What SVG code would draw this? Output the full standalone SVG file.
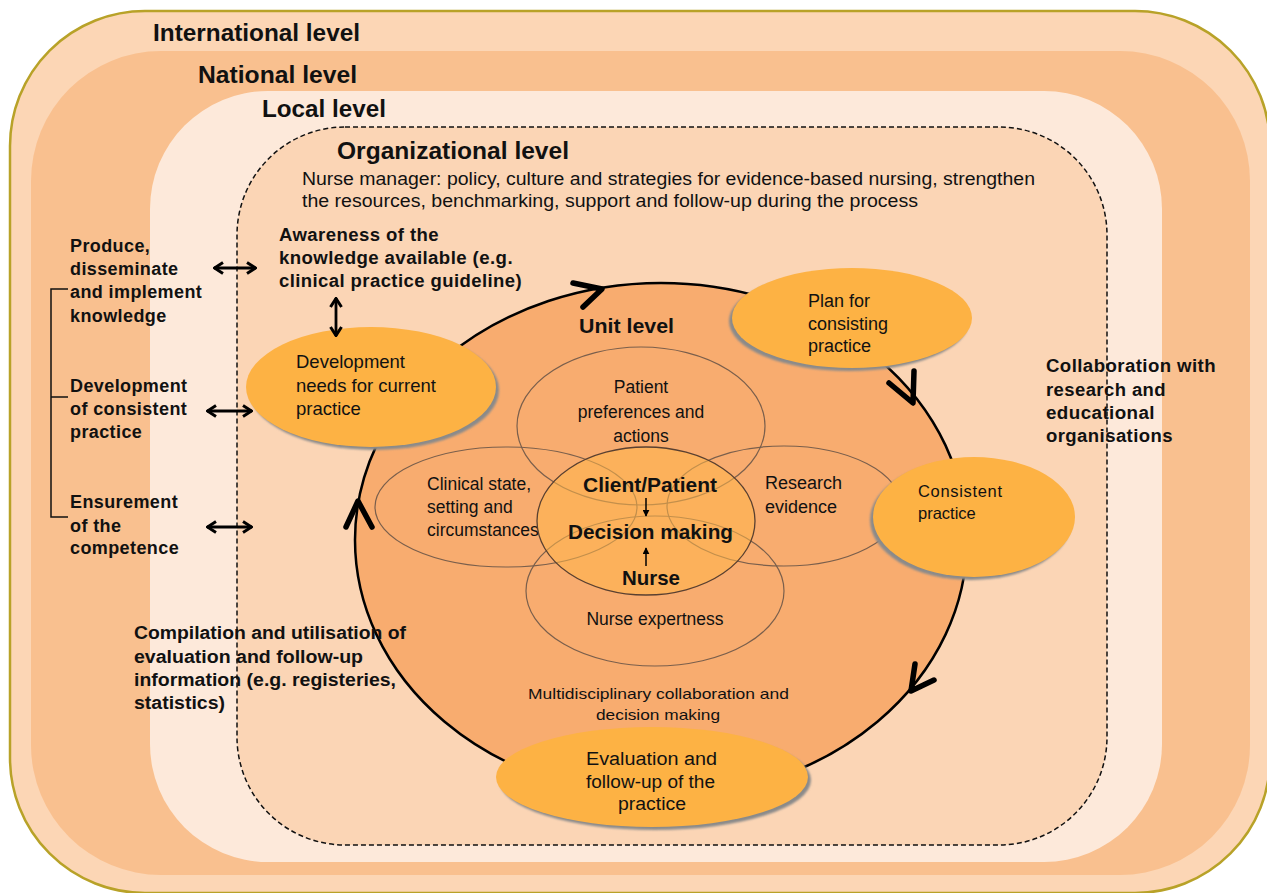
<svg xmlns="http://www.w3.org/2000/svg" width="1267" height="893" viewBox="0 0 1267 893">
<defs>
<style>
.t{font-family:"Liberation Sans",Arial,sans-serif;fill:#111;}
.b{font-weight:bold;}
.hdr{font-family:"Liberation Sans",Arial,sans-serif;font-weight:bold;fill:#111;font-size:23px;}
.lt{font-family:"Liberation Sans",Arial,sans-serif;font-weight:bold;fill:#111;font-size:18px;letter-spacing:0.4px;}
.venn{fill:none;stroke:#7a5f4c;stroke-width:1.2;}
.proc{fill:#fdb244;}
.shad{fill:#8a8a8a;filter:url(#blur);}
.conn{fill:none;stroke:#000;stroke-width:2.8;}
.chev{fill:none;stroke:#000;stroke-width:5.5;stroke-linecap:round;stroke-linejoin:round;}
</style>
<filter id="blur" x="-10%" y="-10%" width="120%" height="120%"><feGaussianBlur stdDeviation="1"/></filter>
<marker id="ah" viewBox="0 0 14 14" refX="13" refY="7" markerWidth="14" markerHeight="14" markerUnits="userSpaceOnUse" orient="auto-start-reverse">
<path d="M4,1.5 L12.5,7 L4,12.5" fill="none" stroke="#000" stroke-width="3" stroke-linejoin="miter"/>
</marker>
<marker id="sa" viewBox="0 0 10 10" refX="9" refY="5" markerWidth="7" markerHeight="7" markerUnits="userSpaceOnUse" orient="auto">
<path d="M0,0 L10,5 L0,10 Z" fill="#000"/>
</marker>
</defs>

<g id="international-level">
<rect x="10" y="11" width="1260" height="882" rx="135" ry="135" fill="#fcd6b5" stroke="#b8a228" stroke-width="2.5"/>
<text class="hdr" x="153" y="41" textLength="207" lengthAdjust="spacingAndGlyphs">International level</text>
</g>
<g id="national-level">
<rect x="31" y="51" width="1219" height="824" rx="130" ry="130" fill="#f9c08f"/>
<text class="hdr" x="198" y="83" textLength="159" lengthAdjust="spacingAndGlyphs">National level</text>
</g>
<g id="local-level">
<rect x="150" y="91" width="1012" height="771" rx="118" ry="118" fill="#fde9da"/>
<text class="hdr" x="262" y="117" textLength="124" lengthAdjust="spacingAndGlyphs">Local level</text>
</g>
<g id="organizational-level">
<rect x="237" y="127" width="870" height="718" rx="108" ry="108" fill="#fbd5b5" stroke="#111" stroke-width="1.5" stroke-dasharray="5,3"/>
<text class="hdr" x="337" y="159" style="font-size:24px" textLength="232" lengthAdjust="spacingAndGlyphs">Organizational level</text>
<text class="t" x="302" y="185" style="font-size:17.5px" textLength="733" lengthAdjust="spacingAndGlyphs">Nurse manager:  policy, culture and strategies for evidence-based nursing, strengthen</text>
<text class="t" x="302" y="207" style="font-size:17.5px" textLength="616" lengthAdjust="spacingAndGlyphs">the resources, benchmarking, support and follow-up during the process</text>
</g>

<g id="unit-level">
<ellipse cx="661" cy="540" rx="306" ry="257" fill="#f8ac6f" stroke="#000" stroke-width="2.5"/>
<text class="t b" x="579" y="333" style="font-size:20px" textLength="95" lengthAdjust="spacingAndGlyphs">Unit level</text>
</g>

<g id="patient-preferences">
<ellipse class="venn" cx="641" cy="426" rx="124" ry="79"/>
<text class="t" text-anchor="middle" style="font-size:17.5px"><tspan x="641" y="393">Patient</tspan><tspan x="641" y="418">preferences and</tspan><tspan x="641" y="442">actions</tspan></text>
</g>
<g id="clinical-state">
<ellipse class="venn" cx="506" cy="507" rx="131" ry="60"/>
<text class="t" style="font-size:17.5px"><tspan x="427" y="490">Clinical state,</tspan><tspan x="427" y="513">setting and</tspan><tspan x="427" y="536">circumstances</tspan></text>
</g>
<g id="research-evidence">
<ellipse class="venn" cx="784" cy="506" rx="117" ry="60"/>
<text class="t" style="font-size:18px"><tspan x="765" y="489">Research</tspan><tspan x="765" y="513">evidence</tspan></text>
</g>
<g id="nurse-expertness">
<ellipse class="venn" cx="655" cy="591" rx="129" ry="75"/>
<text class="t" x="655" y="625" text-anchor="middle" style="font-size:17.5px">Nurse expertness</text>
</g>
<g id="decision-making">
<ellipse cx="646" cy="521" rx="109" ry="74" fill="#ffb74a" fill-opacity="0.55" stroke="#5a4030" stroke-width="1.3"/>
<text class="t b" x="583" y="492" style="font-size:20px" textLength="134" lengthAdjust="spacingAndGlyphs">Client/Patient</text>
<text class="t b" x="568" y="539" style="font-size:21px" textLength="165" lengthAdjust="spacingAndGlyphs">Decision making</text>
<text class="t b" x="622" y="585" style="font-size:21px" textLength="58" lengthAdjust="spacingAndGlyphs">Nurse</text>
</g>

<g id="multidisciplinary">
<text class="t" style="font-size:15px"><tspan x="528" y="699" textLength="261" lengthAdjust="spacingAndGlyphs">Multidisciplinary collaboration and</tspan><tspan x="596" y="720" textLength="124" lengthAdjust="spacingAndGlyphs">decision making</tspan></text>
</g>

<g id="development-needs">
<ellipse class="shad" cx="374" cy="390" rx="125" ry="60"/>
<ellipse class="proc" cx="371" cy="387" rx="125" ry="60"/>
<text class="t" style="font-size:18.5px"><tspan x="296" y="368">Development</tspan><tspan x="296" y="392">needs for current</tspan><tspan x="296" y="415">practice</tspan></text>
</g>
<g id="plan-consisting-practice">
<ellipse class="shad" cx="849" cy="321" rx="120" ry="50"/>
<ellipse class="proc" cx="852" cy="318" rx="120" ry="50"/>
<text class="t" style="font-size:18px"><tspan x="808" y="307">Plan  for</tspan><tspan x="808" y="330">consisting</tspan><tspan x="808" y="352">practice</tspan></text>
</g>
<g id="consistent-practice">
<ellipse class="shad" cx="971" cy="520" rx="101" ry="60"/>
<ellipse class="proc" cx="974" cy="517" rx="101" ry="60"/>
<text class="t" style="font-size:16.5px"><tspan x="918" y="497" textLength="84" lengthAdjust="spacing">Consistent</tspan><tspan x="918" y="519">practice</tspan></text>
</g>
<g id="evaluation-follow-up">
<ellipse class="shad" cx="655" cy="780" rx="156" ry="50"/>
<ellipse class="proc" cx="652" cy="777" rx="156" ry="50"/>
<text class="t" style="font-size:18px"><tspan x="586" y="765" textLength="131" lengthAdjust="spacingAndGlyphs">Evaluation   and</tspan><tspan x="586" y="788" textLength="129" lengthAdjust="spacingAndGlyphs">follow-up  of the</tspan><tspan x="618" y="810" textLength="68" lengthAdjust="spacingAndGlyphs">practice</tspan></text>
</g>

<g id="awareness">
<text class="lt"><tspan x="279" y="241" textLength="160" lengthAdjust="spacingAndGlyphs">Awareness of the</tspan><tspan x="279" y="264" textLength="234" lengthAdjust="spacingAndGlyphs">knowledge available (e.g.</tspan><tspan x="279" y="287" textLength="243" lengthAdjust="spacingAndGlyphs">clinical practice guideline)</tspan></text>
</g>
<g id="produce-knowledge">
<text class="lt"><tspan x="70" y="252">Produce,</tspan><tspan x="70" y="275">disseminate</tspan><tspan x="70" y="298">and implement</tspan><tspan x="70" y="322">knowledge</tspan></text>
</g>
<g id="development-consistent">
<text class="lt"><tspan x="70" y="392">Development</tspan><tspan x="70" y="415">of consistent</tspan><tspan x="70" y="438">practice</tspan></text>
</g>
<g id="ensurement-competence">
<text class="lt"><tspan x="70" y="508">Ensurement</tspan><tspan x="70" y="532">of the</tspan><tspan x="70" y="554">competence</tspan></text>
</g>
<g id="collaboration-research">
<text class="lt"><tspan x="1046" y="372" textLength="170" lengthAdjust="spacingAndGlyphs">Collaboration with</tspan><tspan x="1046" y="396" textLength="120" lengthAdjust="spacingAndGlyphs">research and</tspan><tspan x="1046" y="419" textLength="109" lengthAdjust="spacingAndGlyphs">educational</tspan><tspan x="1046" y="442" textLength="127" lengthAdjust="spacingAndGlyphs">organisations</tspan></text>
</g>
<g id="compilation-evaluation">
<text class="t b" style="font-size:18px"><tspan x="134" y="639" textLength="272" lengthAdjust="spacingAndGlyphs">Compilation and utilisation of</tspan><tspan x="134" y="663" textLength="229" lengthAdjust="spacingAndGlyphs">evaluation and follow-up</tspan><tspan x="134" y="686" textLength="262" lengthAdjust="spacingAndGlyphs">information (e.g. registeries,</tspan><tspan x="134" y="709" textLength="91" lengthAdjust="spacingAndGlyphs">statistics)</tspan></text>
</g>

<g id="connectors">
<path d="M68,289 H51 V517 H68 M51,397 H68" fill="none" stroke="#111" stroke-width="1.5"/>
<line class="conn" x1="214" y1="268" x2="256" y2="268" marker-start="url(#ah)" marker-end="url(#ah)"/>
<line class="conn" x1="207" y1="411" x2="252" y2="411" marker-start="url(#ah)" marker-end="url(#ah)"/>
<line class="conn" x1="207" y1="527" x2="252" y2="527" marker-start="url(#ah)" marker-end="url(#ah)"/>
<line class="conn" x1="336" y1="298" x2="336" y2="336" marker-start="url(#ah)" marker-end="url(#ah)"/>
<line x1="646" y1="498" x2="646" y2="516" stroke="#000" stroke-width="1.5" marker-end="url(#sa)"/>
<line x1="646" y1="566" x2="646" y2="548" stroke="#000" stroke-width="1.5" marker-end="url(#sa)"/>
<path class="chev" d="M573,283 L602,289 L583,307"/>
<path class="chev" d="M889,383 L913,403 L914,371"/>
<path class="chev" d="M934,680 L911,691 L915,664"/>
<path class="chev" d="M346,527 L358,501 L372,527"/>
</g>
</svg>
